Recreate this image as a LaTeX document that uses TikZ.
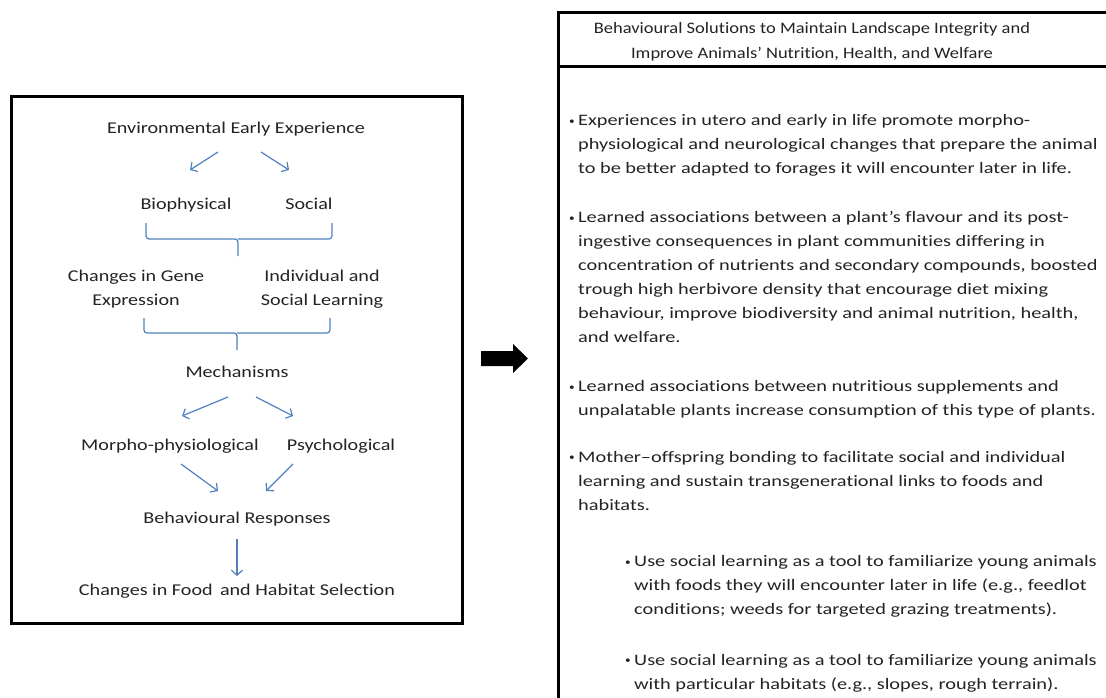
\documentclass[tikz,border=0pt]{standalone}
\usepackage{fontspec}
\setmainfont{Carlito}[FakeStretch=1.12,Ligatures=NoCommon]
\newfontfamily\leftfont{Carlito}[FakeStretch=1.22,Ligatures=NoCommon]
\newfontfamily\headfont{Carlito}[FakeStretch=1.155,Ligatures=NoCommon]
\newfontfamily\parafont{Carlito}[FakeStretch=1.27,Ligatures=NoCommon]
\usetikzlibrary{arrows.meta,calc}
\definecolor{flowblue}{RGB}{79,129,189}
\definecolor{inkgray}{RGB}{35,35,35}
\newcommand{\fl}{\rule{0pt}{14pt}}
\begin{document}
\begin{tikzpicture}[x=1pt,y=-1pt,
  lbl/.style={font=\leftfont\fontsize{16.5}{24}\selectfont, text=inkgray, inner sep=0pt, align=center},
  flow/.style={draw=flowblue, line width=1.2pt, -{Straight Barb[length=5pt,width=11pt,line width=1.2pt]}},
  bracket/.style={draw=flowblue, line width=1.2pt, rounded corners=3pt},
  para/.style={font=\parafont\fontsize{16}{24}\selectfont, text=inkgray, inner sep=0pt, align=left, anchor=north west},
  head/.style={font=\headfont\fontsize{16}{25}\selectfont, text=inkgray, inner sep=0pt, align=center, anchor=north},
  bul/.style={font=\fontsize{10}{12}\selectfont, text=inkgray, inner sep=0pt, anchor=base},
  frame/.style={draw=black, line width=3pt}
]
\useasboundingbox (0,0) rectangle (1106,698);
\clip (0,0) rectangle (1106,698);

% ---------- left box ----------
\node[frame, minimum width=451pt, minimum height=527pt, inner sep=0pt] (lbox) at (237,360) {};

\node[lbl, anchor=base] (env) at (236,134) {Environmental Early Experience};
\node[lbl, anchor=base] (bio) at (186,209) {Biophysical};
\node[lbl, anchor=base] (soc) at (309,209) {Social};
\node[lbl, anchor=north] (gene) at (136,267.7) {\fl Changes in Gene\\Expression};
\node[lbl, anchor=north] (ind) at (322,267.7) {\fl Individual and\\Social Learning};
\node[lbl, anchor=base] (mech) at (237,377) {Mechanisms};
\node[lbl, anchor=base] (morpho) at (170,450) {Morpho-physiological};
\node[lbl, anchor=base] (psych) at (341,450) {Psychological};
\node[lbl, anchor=base] (beh) at (237,523) {Behavioural Responses};
\node[lbl, anchor=base] (food) at (237,595) {Changes in Food\, and Habitat Selection};

\draw[flow] ($(env.base)+(-18,18)$) -- ($(bio.base)+(4,-39)$);
\draw[flow] ($(env.base)+(25,18)$) -- ($(soc.base)+(-20,-39)$);

\draw[bracket] ($(bio.base)+(-40,14)$) |- ($(env.base)+(2,105)$) -- ($(env.base)+(2,122)$);
\draw[bracket] ($(soc.base)+(23,14)$) |- ($(env.base)+(2,105)$);

\draw[bracket] ($(mech.base)+(-93,-59)$) |- ($(mech.base)+(0,-44)$) -- ($(mech.base)+(0,-27)$);
\draw[bracket] ($(mech.base)+(93,-59)$) |- ($(mech.base)+(0,-44)$);

\draw[flow] ($(mech.base)+(-9,20)$) -- ($(morpho.base)+(12,-34)$);
\draw[flow] ($(mech.base)+(19,20)$) -- ($(psych.base)+(-48,-34)$);
\draw[flow] ($(morpho.base)+(11,14)$) -- ($(beh.base)+(-19,-32)$);
\draw[flow] ($(psych.base)+(-48,14)$) -- ($(beh.base)+(29,-32)$);
\draw[flow] ($(beh.base)+(0,16)$) -- ($(food.base)+(0,-19)$);

% ---------- block arrow ----------
\fill[black] (481,351) -- (513,351) -- (513,344) -- (528,358.5) -- (513,373) -- (513,366) -- (481,366) -- cycle;

% ---------- right box ----------
\node[frame, anchor=north west, minimum width=620pt, minimum height=720pt, inner sep=0pt] (rbox) at (556.5,11) {};
\draw[frame] (rbox.west |- 0,67) -- (1120,67);

\node[head] (hdr) at (812,19) {\fl Behavioural Solutions to Maintain Landscape Integrity and\\Improve Animals\textquoteright\ Nutrition, Health, and Welfare};

\node[bul] (d1) at (572,124.5) {•};
\node[para] (p1) at (578,111.7) {\fl Experiences in utero and early in life promote morpho-\\physiological and neurological changes that prepare the animal\\to be better adapted to forages it will encounter  later in life.};

\node[bul] (d2) at (572,221.3) {•};
\node[para] (p2) at (578,208.5) {\fl Learned associations between  a plant\textquoteright s flavour and its post-\\ingestive consequences in plant communities differing in\\concentration of nutrients and secondary compounds,  boosted\\trough high herbivore density  that encourage diet mixing\\behaviour, improve biodiversity and animal nutrition, health,\\and welfare.};

\node[bul] (d3) at (572,390.5) {•};
\node[para] (p3) at (578,377.7) {\fl Learned associations between  nutritious  supplements and\\unpalatable plants increase consumption  of this type  of plants.};

\node[bul] (d4) at (572,460.8) {•};
\node[para] (p4) at (578,448) {\fl Mother\textendash offspring bonding to facilitate social and individual\\learning and sustain transgenerational links to foods and\\habitats.};

\node[bul] (d5) at (628,565.5) {•};
\node[para] (p5) at (634,552.7) {\fl Use social learning as a tool  to familiarize young animals\\with foods  they will encounter later in life (e.g., feedlot\\conditions;  weeds for  targeted grazing treatments).};

\node[bul] (d6) at (628,663.8) {•};
\node[para] (p6) at (634,651) {\fl Use social learning as a tool  to familiarize young animals\\with particular habitats (e.g., slopes,  rough terrain).};
\end{tikzpicture}
\end{document}
